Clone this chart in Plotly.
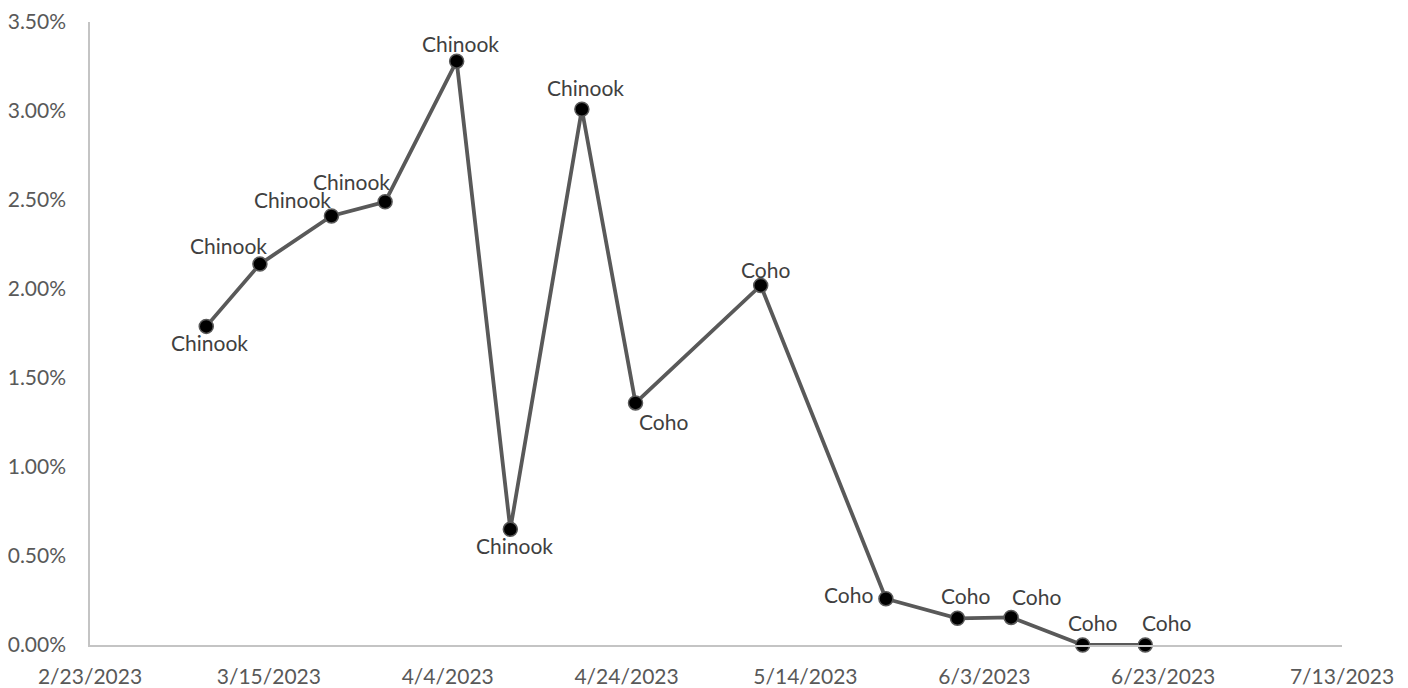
import plotly.graph_objects as go

dates = ["2023-03-08", "2023-03-14", "2023-03-22", "2023-03-28", "2023-04-05",
         "2023-04-11", "2023-04-19", "2023-04-25", "2023-05-09", "2023-05-23",
         "2023-05-31", "2023-06-06", "2023-06-14", "2023-06-21"]
values = [0.0179, 0.0214, 0.0241, 0.0249, 0.0328,
          0.0065, 0.0301, 0.0136, 0.0202, 0.0026,
          0.0015, 0.00155, 0.0, 0.0]
species = ["Chinook", "Chinook", "Chinook", "Chinook", "Chinook",
           "Chinook", "Chinook", "Coho", "Coho", "Coho",
           "Coho", "Coho", "Coho", "Coho"]

# label pixel offsets (style)
label_dx = [3, -31, -39, -34, 4, 4, 4, 28, 5, -37, 8, 25, 10, 21]
label_dy = [-16, 19, 17, 20, 18, -16, 22, -19, 16, 4, 23, 21, 23, 23]

FONT = "Lato"
FS = 21

fig = go.Figure()
fig.add_trace(go.Scatter(
    x=dates, y=values, mode="lines+markers",
    line=dict(color="#595959", width=3.8),
    marker=dict(size=14, color="#000000", line=dict(color="#595959", width=1.5)),
    cliponaxis=False, showlegend=False,
))

for x, y, t, dx, dy in zip(dates, values, species, label_dx, label_dy):
    fig.add_annotation(x=x, y=y, text=t, showarrow=False, xshift=dx, yshift=dy,
                       font=dict(family=FONT, size=FS, color="#404040"))

# page body has an 8px margin, so the figure is sized to fit the window
fig.update_layout(
    width=1400, height=680,
    margin=dict(l=82, r=66, t=14, b=43),
    paper_bgcolor="white", plot_bgcolor="white",
    font=dict(family=FONT, size=FS, color="#595959"),
)
fig.update_xaxes(
    type="date", range=["2023-02-23", "2023-07-13"],
    tick0="2023-02-23", dtick=20 * 86400000, tickformat="%-m/%-d/%Y",
    showgrid=False, zeroline=False, showline=True, linecolor="#C4C4C4", linewidth=1.5,
    ticks="", ticklabelstandoff=12, automargin=False,
    tickfont=dict(family=FONT, size=FS, color="#595959"),
)
fig.update_yaxes(
    range=[0, 0.035], dtick=0.005, tickformat=".2%",
    showgrid=False, zeroline=False, showline=True, linecolor="#C4C4C4", linewidth=1.5,
    ticks="", ticklabelstandoff=18, automargin=False,
    tickfont=dict(family=FONT, size=FS, color="#595959"),
)

fig.write_html("out.html")
